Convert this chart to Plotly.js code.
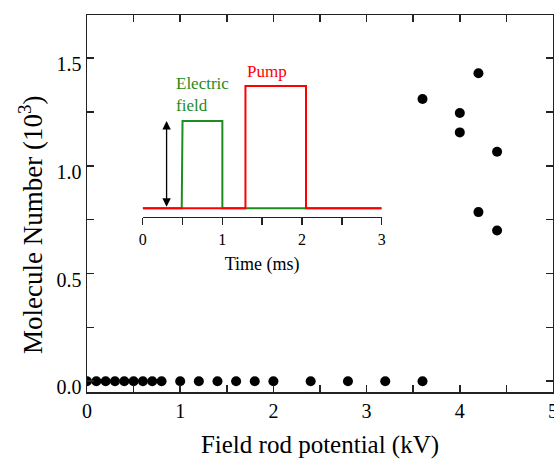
<!DOCTYPE html>
<html>
<head>
<meta charset="utf-8">
<script src="https://cdn.plot.ly/plotly-3.0.1.min.js"></script>
<style>html,body{margin:0;padding:0;background:#fff;}#chart{width:554px;height:459px;}</style>
</head>
<body>
<div id="chart"></div>
<script>
// Main data: field rod potential (kV) vs molecule number (10^3)
const potentialKV = [0, 0.1, 0.2, 0.3, 0.4, 0.5, 0.6, 0.7, 0.8, 1.0, 1.2, 1.4, 1.6, 1.8, 2.0, 2.4, 2.8, 3.2, 3.6,
                     3.6, 4.0, 4.0, 4.2, 4.2, 4.4, 4.4];
const moleculeNumber = [0, 0, 0, 0, 0, 0, 0, 0, 0, 0, 0, 0, 0, 0, 0, 0, 0, 0, 0,
                        1.31, 1.245, 1.155, 1.43, 0.785, 1.065, 0.70];
const xTicks = [0, 1, 2, 3, 4, 5];
const yTicks = [0, 0.5, 1.0, 1.5];

// Inset: timing diagram
const fieldTime = [0, 0.49, 0.5, 1.0, 1.0, 3.0];
const fieldLevel = [0, 0, 1, 1, 0, 0];
const pumpTime = [0, 1.29, 1.29, 2.05, 2.05, 3.0];
const pumpLevel = [0, 0, 1.4, 1.4, 0, 0];
const insetTicks = [0, 1, 2, 3];

const serif = "'Liberation Serif', 'Times New Roman', serif";
const green = '#1e8c1e';
const red = '#ff0000';

const traces = [
  {x: potentialKV, y: moleculeNumber, type: 'scatter', mode: 'markers',
   marker: {color: '#000', size: 10}, xaxis: 'x', yaxis: 'y', hoverinfo: 'none'},
  {x: fieldTime, y: fieldLevel, type: 'scatter', mode: 'lines',
   line: {color: green, width: 2}, xaxis: 'x2', yaxis: 'y2', hoverinfo: 'none'},
  {x: pumpTime, y: pumpLevel, type: 'scatter', mode: 'lines',
   line: {color: red, width: 2}, xaxis: 'x2', yaxis: 'y2', hoverinfo: 'none'}
];

const layout = {
  width: 554, height: 459,
  margin: {l: 87, r: 1, t: 15, b: 67},
  paper_bgcolor: '#fff', plot_bgcolor: '#fff',
  showlegend: false,
  font: {family: serif, color: '#000', size: 20},
  xaxis: {
    range: [0, 5], tickvals: xTicks, ticktext: xTicks.map(String),
    ticks: 'inside', ticklen: 7, tickwidth: 1.5, tickcolor: '#222',
    minor: {dtick: 0.5, ticks: 'inside', ticklen: 7, tickwidth: 1.5, tickcolor: '#222'},
    showline: true, linecolor: '#222', linewidth: 1.5, mirror: 'ticks',
    showgrid: false, zeroline: false, automargin: false,
    ticklabeloverflow: 'allow',
    tickfont: {family: serif, size: 20},
    title: {text: 'Field rod potential (kV)', font: {family: serif, size: 25}, standoff: 18}
  },
  yaxis: {
    range: [-0.05, 1.7], tickvals: yTicks, ticktext: yTicks.map(v => v.toFixed(1)),
    ticks: 'inside', ticklen: 7, tickwidth: 1.5, tickcolor: '#222',
    minor: {dtick: 0.25, ticks: 'inside', ticklen: 7, tickwidth: 1.5, tickcolor: '#222'},
    showline: true, linecolor: '#222', linewidth: 1.5, mirror: 'ticks',
    showgrid: false, zeroline: false, automargin: false,
    tickfont: {family: serif, size: 20}, ticklabelstandoff: 0, ticklabelshift: 6
  },
  xaxis2: {
    domain: [0.1195, 0.6324], anchor: 'y2', range: [0, 3],
    tickvals: insetTicks, ticktext: insetTicks.map(String),
    ticks: 'outside', ticklen: 7, tickwidth: 1.5, tickcolor: '#222',
    minor: {dtick: 0.5, ticks: 'outside', ticklen: 7, tickwidth: 1.5, tickcolor: '#222'},
    showline: true, linecolor: '#222', linewidth: 1.5,
    showgrid: false, zeroline: false,
    tickfont: {family: serif, size: 16},
    title: {text: 'Time (ms)', font: {family: serif, size: 18}, standoff: 10}
  },
  yaxis2: {
    domain: [0.4642, 0.8806], anchor: 'x2', range: [-0.0997, 1.699],
    visible: false, showgrid: false, zeroline: false
  },
  annotations: [
    {xref: 'paper', yref: 'paper', x: -0.1202, y: 0.443, xanchor: 'center', yanchor: 'middle',
     textangle: -90, text: 'Molecule Number (10<sup>3</sup>)', showarrow: false,
     font: {family: serif, size: 27, color: '#000'}},
    {xref: 'x2', yref: 'y2', x: 0.3, y: 1.0, ax: 0.3, ay: 0.0, axref: 'x2', ayref: 'y2',
     text: '', showarrow: true, arrowhead: 2, arrowside: 'end+start', arrowsize: 1.3,
     arrowwidth: 1.3, arrowcolor: '#000', standoff: 0, startstandoff: 0},
    {xref: 'x2', yref: 'y2', x: 0.39, y: 1.3, xanchor: 'left', yanchor: 'middle', align: 'left',
     text: 'Electric<br>field', showarrow: false, font: {family: serif, size: 17, color: green}},
    {xref: 'x2', yref: 'y2', x: 1.28, y: 1.572, xanchor: 'left', yanchor: 'middle',
     text: 'Pump', showarrow: false, font: {family: serif, size: 17, color: red}}
  ]
};

Plotly.newPlot('chart', traces, layout, {displayModeBar: false, staticPlot: true});
</script>
</body>
</html>
